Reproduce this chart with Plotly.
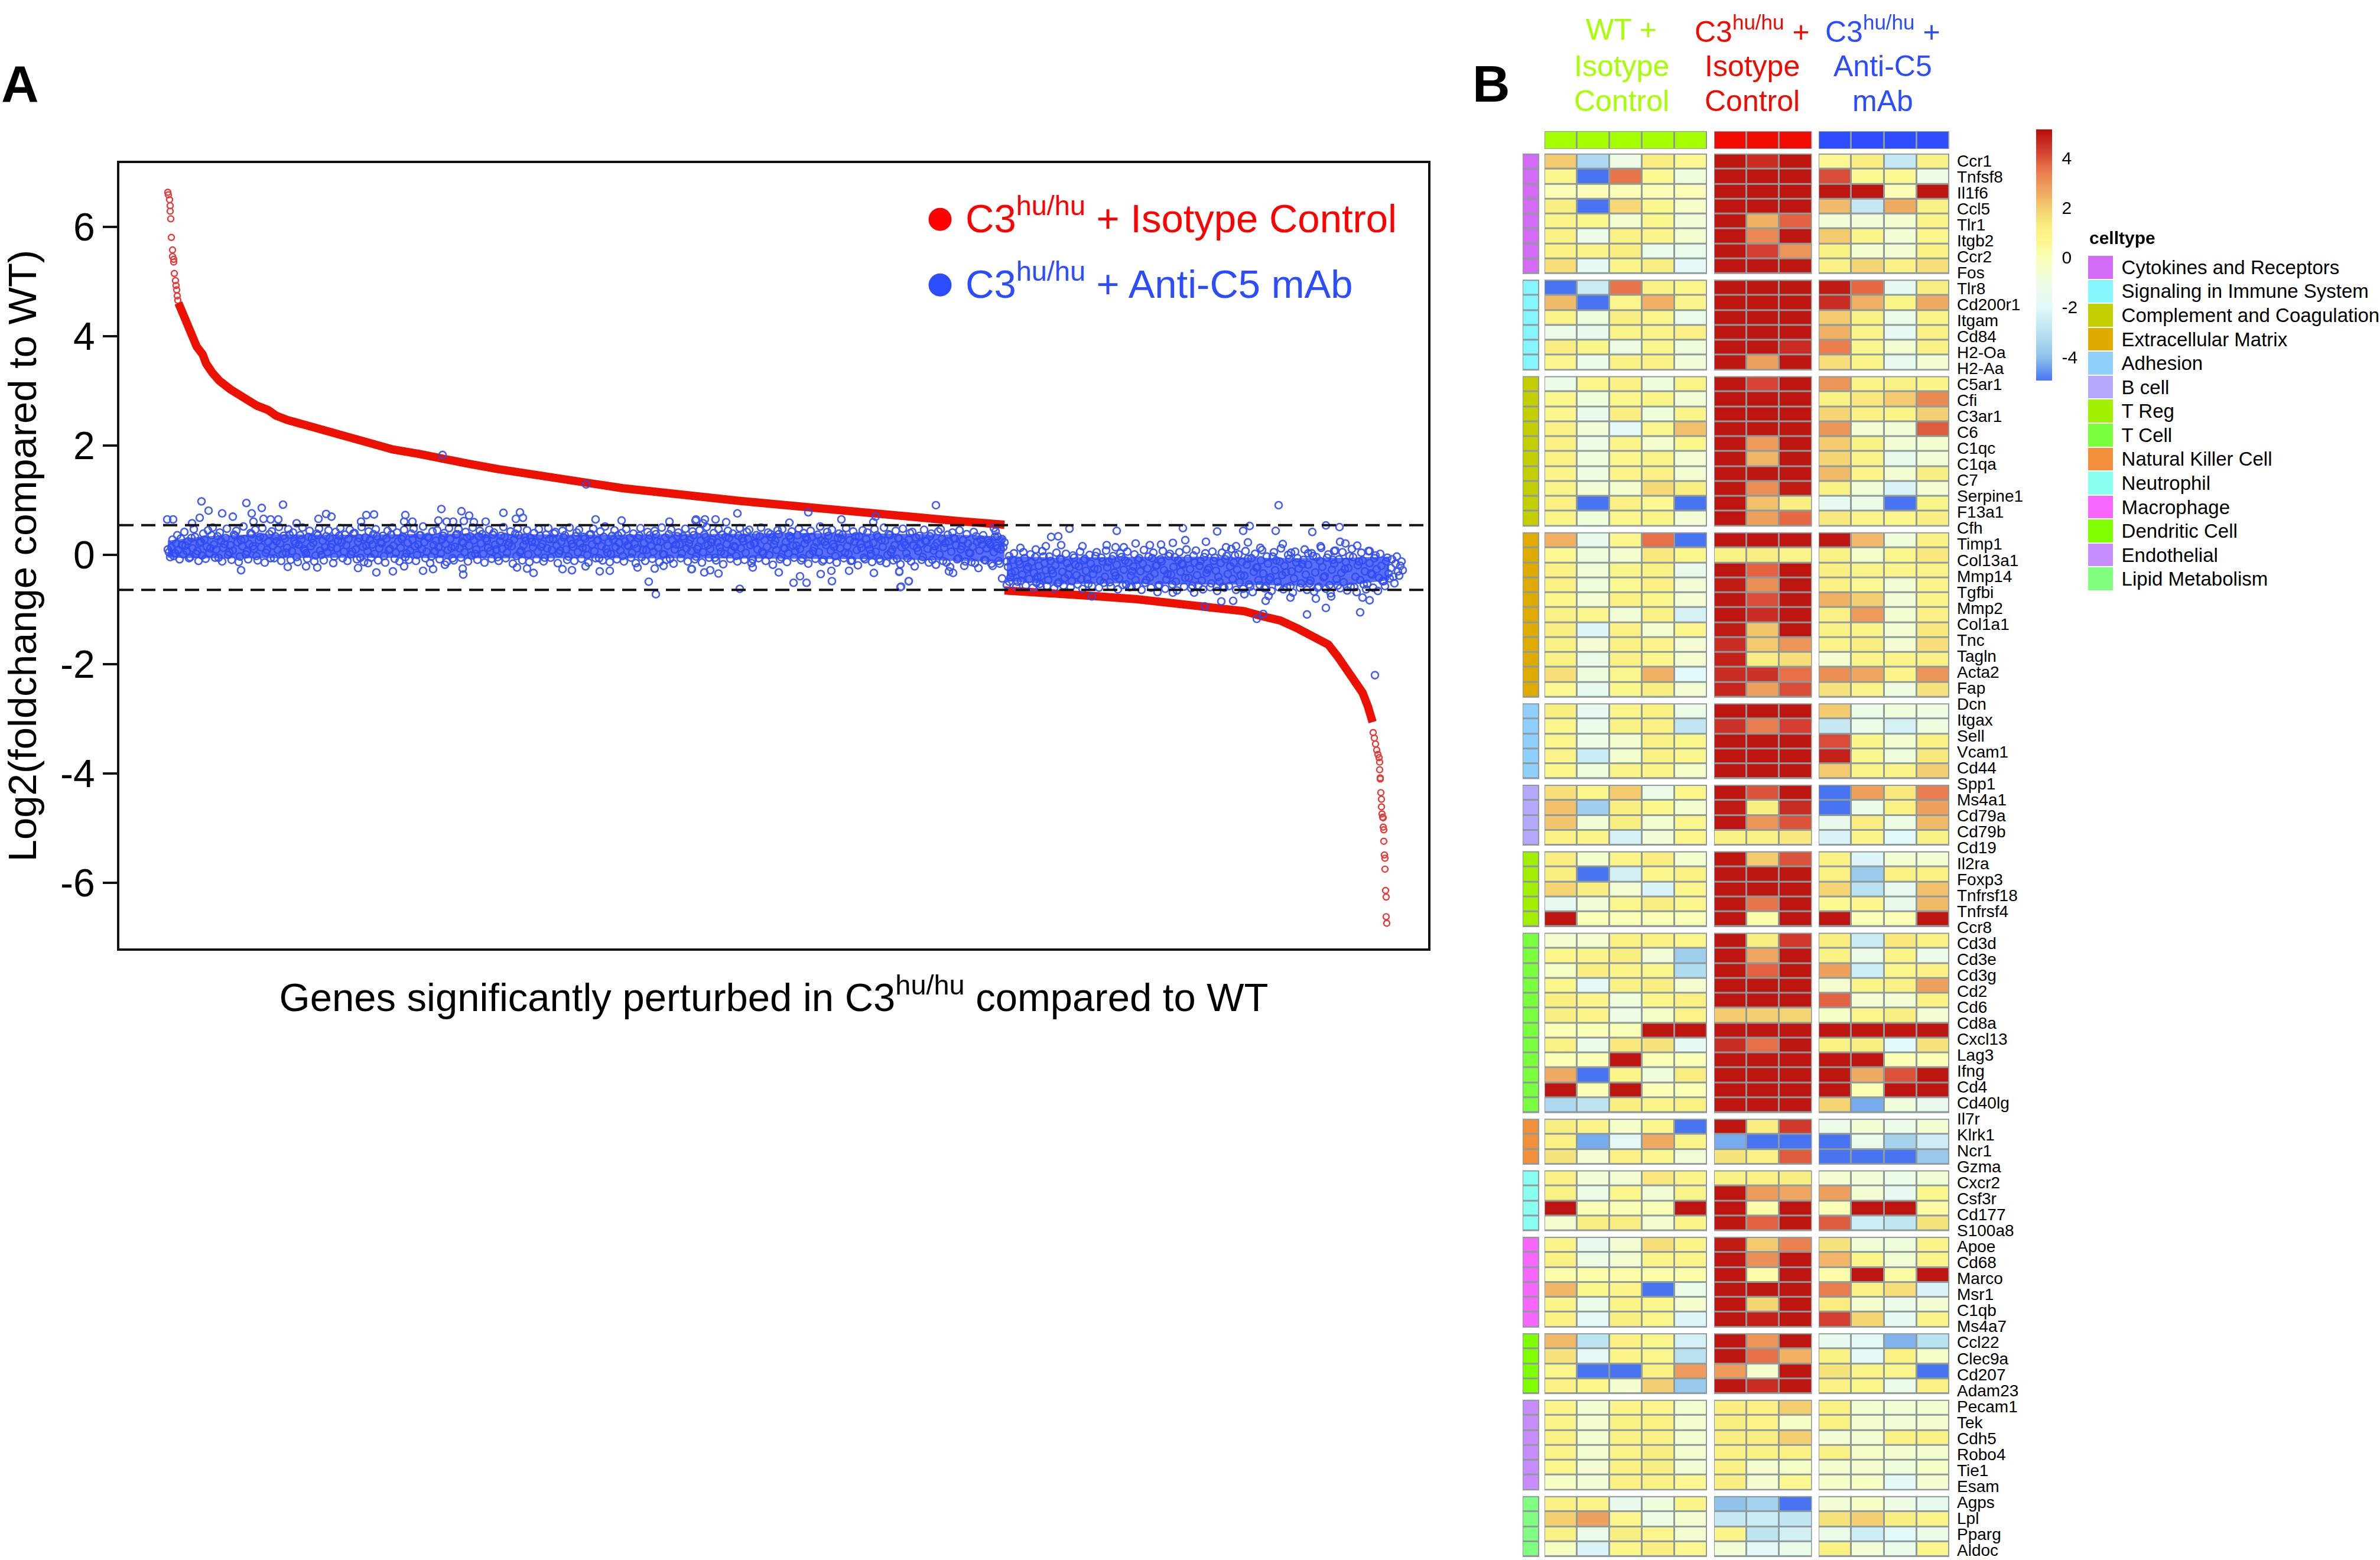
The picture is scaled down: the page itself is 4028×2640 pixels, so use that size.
import plotly.graph_objects as go

W, H = 4028, 2640
FONT = "Liberation Sans"

# ---------- Panel A data (gene rank, log2 fold change) ----------
red_up_tail_x = [0, 1, 3, 4, 4, 5, 6, 8, 8, 10, 10, 11, 13, 14, 15, 16, 17]
red_up_tail_y = [6.635, 6.59, 6.50, 6.39, 6.29, 6.15, 5.81, 5.58, 5.46, 5.41, 5.36, 5.15, 5.02, 4.93, 4.85, 4.74, 4.66]
red_up_x = [18, 24, 30, 40, 49, 59, 65, 75, 87, 106, 119, 135, 151, 170, 183, 202, 221, 253, 291, 317, 349, 381, 425, 464, 508,
            559, 610, 661, 712, 770, 821, 866, 966, 1066, 1166, 1266, 1337, 1416]
red_up_y = [4.61, 4.47, 4.27, 4.03, 3.81, 3.67, 3.50, 3.34, 3.19, 3.03, 2.94, 2.80, 2.73, 2.65, 2.55, 2.47, 2.41, 2.31, 2.20, 2.12,
            2.01, 1.93, 1.85, 1.75, 1.67, 1.57, 1.48, 1.38, 1.29, 1.22, 1.16, 1.10, 0.99, 0.89, 0.78, 0.67, 0.62, 0.553]
red_down_x = [1416, 1477, 1564, 1640, 1755, 1822, 1852, 1883, 1913, 1931, 1949, 1964, 1980, 2004, 2022, 2031, 2039]
red_down_y = [-0.65, -0.68, -0.75, -0.81, -0.94, -1.03, -1.12, -1.20, -1.35, -1.45, -1.55, -1.64, -1.86, -2.22, -2.52, -2.77, -3.06]
red_down_tail_x = [2040, 2042, 2044, 2046, 2048, 2050, 2051, 2051, 2052, 2052, 2053, 2054, 2054, 2055, 2056, 2057, 2057,
                   2058, 2058, 2059, 2060, 2060, 2061, 2062, 2062, 2063]
red_down_tail_y = [-3.25, -3.35, -3.46, -3.57, -3.65, -3.71, -3.79, -3.93, -4.08, -4.10, -4.35, -4.47, -4.61, -4.74,
                   -4.80, -4.81, -4.98, -5.03, -5.24, -5.49, -5.55, -5.75, -6.14, -6.26, -6.62, -6.74]

band_left_x = [0, 60, 150, 300, 500, 700, 900, 1050, 1216, 1340, 1416]
band_left_top = [0.26, 0.34, 0.38, 0.37, 0.39, 0.37, 0.38, 0.40, 0.39, 0.37, 0.34]
band_left_bot = [-0.05, -0.06, -0.06, -0.05, -0.06, -0.06, -0.06, -0.07, -0.08, -0.11, -0.13]
band_right_x = [1420, 1500, 1600, 1700, 1800, 1900, 2000, 2067]
band_right_top = [-0.02, -0.05, -0.04, -0.03, -0.04, -0.06, -0.05, -0.03]
band_right_bot = [-0.48, -0.54, -0.52, -0.54, -0.54, -0.56, -0.55, -0.46]

# outlying blue points read one by one
blue_out_x = [57, 133, 159, 195, 69, 92, 110, 142, 54, -1, 9, 162, 174, 187, 145, 255, 268, 277, 336, 349, 327, 402, 400,
              414, 463, 458, 497, 510, 472, 483, 501, 568, 596, 589, 601, 724, 768, 849, 893, 538, 218, 41, 518,
              124, 203, 322, 353, 381, 432, 449, 469, 500, 499, 591, 608, 619, 668, 684, 707, 731, 748, 795, 814, 826,
              824, 839, 886, 253, 234, 400, 339, 465, 708,
              964, 1084, 1198, 1194, 1140, 1052, 945, 894, 927, 909, 906, 887, 932, 908, 918, 968, 990, 1034, 1059, 1070,
              1081, 1124, 1105, 1123, 1153, 1195, 1238, 1254, 1241,
              1300, 1880, 1526, 1606, 1718, 1776, 1820, 1831, 1875, 1937, 1960, 1983, 1495, 1507, 1443, 1486, 1512, 1548,
              1469, 1238, 1254, 1240, 1412, 1424, 1322, 1329, 1477, 1564, 1755, 1783, 1803, 1858, 1843, 1854, 1928, 1960,
              2018, 2043, 2034, 1900, 1943, 1969, 2022, 1863, 1822, 1737, 1701, 1675, 1631, 1984, 1993, 1951, 2013, 1887,
              1828, 1757, 1722, 1701, 1681, 1662, 1638, 1618, 1604, 1589, 1974, 2034, 1901, 1930, 1849, 1808, 1791,
              1398, 1401, 1404]
blue_out_y = [0.98, 0.95, 0.86, 0.92, 0.81, 0.76, 0.70, 0.76, 0.68, 0.65, 0.65, 0.66, 0.65, 0.65, 0.61, 0.66, 0.75, 0.70,
              0.73, 0.74, 0.61, 0.73, 0.61, 0.61, 0.84, 0.63, 0.80, 0.72, 0.61, 0.61, 0.62, 0.77, 0.78, 0.66, 0.68, 0.65,
              0.63, 0.61, 0.63, 0.61, 0.58, 0.58, 0.60,
              -0.28, -0.22, -0.24, -0.32, -0.30, -0.29, -0.26, -0.18, -0.36, -0.25, -0.23, -0.25, -0.33, -0.26, -0.28,
              -0.21, -0.30, -0.29, -0.23, -0.49, -0.72, -0.25, -0.20, -0.26, -0.23, -0.21, -0.21, -0.15, 1.83, 1.29,
              0.76, 0.78, 0.70, 0.60, 0.65, 0.59, 0.60, 0.65, 0.65, 0.65, 0.58, -0.26, -0.34, -0.32, -0.28, -0.62, -0.23,
              -0.32, -0.51, -0.39, -0.51, -0.48, -0.35, -0.29, -0.29, -0.33, -0.30, -0.48, -0.58,
              0.91, 0.91, 0.48, 0.44, 0.49, 0.43, 0.44, 0.53, 0.44, 0.42, 0.54, 0.51, 0.33, 0.34, 0.13, 0.16, 0.18, 0.16,
              0.10, -0.31, -0.48, -0.59, -0.43, -0.49, -0.30, -0.33, -0.59, -0.76, -0.94, -0.85, -0.84, -0.84, -1.17, -1.08,
              -1.09, -0.97, -1.05, -2.20, -0.83, -0.78, -0.80, -0.76, -0.78, -0.75, -0.72, -0.69, -0.69, -0.68, -0.58,
              0.24, 0.21, 0.16, 0.17, 0.20, 0.23, 0.24, 0.27, 0.22, 0.19, 0.18, 0.21, 0.14, 0.14, 0.18, 0.07, 0.07, 0.04,
              0.03, 0.13, 0.16, 0.14, 0.49, 0.43, 0.34]

# fringe of the dense blue cloud, estimated along the gene rank (4 ranks apart)
blue_left_y = [
    0.10, -0.04, 0.28, 0.03, 0.36, -0.08, 0.18, 0.42, 0.07, -0.06, 0.31, 0.47, 0.02, -0.11, 0.24, 0.39, -0.07, 0.45, 0.12, 0.50,
    -0.05, 0.34, 0.41, -0.12, 0.20, 0.48, 0.05, -0.09, 0.37, 0.44, -0.13, 0.27, 0.52, 0.01, -0.08, 0.40, 0.16, 0.46, -0.10, 0.33,
    0.49, -0.14, 0.09, 0.38, 0.43, -0.06, 0.25, 0.51, -0.11, 0.35, 0.04, 0.47, -0.09, 0.41, 0.21, -0.13, 0.36, 0.50, 0.08, -0.07,
    0.44, 0.30, -0.12, 0.39, 0.48, 0.00, -0.10, 0.34, 0.45, 0.14, -0.15, 0.42, 0.26, 0.49, -0.06, 0.37, -0.11, 0.46, 0.06, 0.40,
    -0.08, 0.31, 0.51, -0.13, 0.17, 0.43, -0.05, 0.38, 0.47, -0.10, 0.23, 0.35, -0.14, 0.44, 0.11, 0.50, -0.07, 0.41, -0.12, 0.29,
    0.46, 0.03, -0.09, 0.39, 0.48, -0.11, 0.19, 0.36, 0.52, -0.06, 0.33, -0.15, 0.43, 0.07, 0.45, -0.08, 0.28, 0.40, -0.13, 0.49,
    0.13, -0.10, 0.37, 0.47, -0.05, 0.22, 0.42, -0.12, 0.34, 0.50, 0.02, -0.09, 0.44, 0.38, -0.14, 0.26, 0.46, -0.07, 0.41, 0.10,
    -0.11, 0.35, 0.51, -0.06, 0.18, 0.43, -0.16, 0.39, 0.48, 0.05, -0.10, 0.32, 0.45, -0.13, 0.24, 0.40, -0.08, 0.47, 0.15, -0.12,
    0.37, 0.49, -0.05, 0.29, 0.42, -0.15, 0.08, 0.44, 0.36, -0.09, 0.50, 0.20, -0.11, 0.41, 0.46, -0.07, 0.33, 0.12, -0.14, 0.38,
    0.48, -0.06, 0.27, 0.43, -0.10, 0.52, 0.04, -0.13, 0.35, 0.45, -0.08, 0.22, 0.40, -0.12, 0.47, 0.16, -0.05, 0.39, -0.15, 0.31,
    0.49, 0.09, -0.11, 0.42, 0.36, -0.07, 0.44, 0.25, -0.13, 0.50, 0.01, -0.09, 0.38, 0.46, -0.16, 0.19, 0.41, -0.06, 0.34, 0.48,
    -0.12, 0.28, 0.43, -0.08, 0.11, 0.45, -0.14, 0.37, 0.51, -0.05, 0.23, 0.40, -0.10, 0.47, 0.06, -0.17, 0.33, 0.44, -0.07, 0.39,
    0.14, -0.12, 0.49, 0.30, -0.09, 0.42, 0.46, -0.15, 0.21, 0.36, -0.06, 0.50, 0.03, -0.11, 0.41, 0.38, -0.18, 0.26, 0.45, -0.08,
    0.47, 0.12, -0.13, 0.35, 0.43, -0.05, 0.17, 0.48, -0.10, 0.40, 0.32, -0.16, 0.44, 0.07, -0.07, 0.37, 0.52, -0.12, 0.24, 0.42,
    -0.09, 0.46, 0.15, -0.14, 0.39, 0.29, -0.06, 0.49, 0.02, -0.11, 0.43, 0.34, -0.19, 0.20, 0.45, -0.08, 0.41, 0.10, -0.13, 0.47,
    0.36, -0.07, 0.27, 0.50, -0.15, 0.38, 0.05, -0.10, 0.44, 0.31, -0.17, 0.48, 0.18, -0.06, 0.40, 0.42, -0.21, 0.13, 0.35, -0.09,
    0.46, 0.25, -0.14, 0.39, 0.08, -0.18, 0.43, 0.47, -0.11, 0.22, 0.37, -0.22, 0.41, 0.30, -0.08, 0.45, 0.16, -0.20, 0.38, 0.04,
    -0.13, 0.42, 0.34, -0.24, 0.28, 0.36, -0.10, 0.26, 0.19, -0.20, 0.33, 0.12, -0.16, 0.29, 0.23, -0.12]
blue_right_y = [
    -0.55, -0.02, -0.33, 0.03, -0.58, -0.12, -0.47, 0.05, -0.56, -0.22, 0.01, -0.60, -0.04, -0.40, -0.53, 0.07, -0.15, -0.57, -0.03, -0.28,
    -0.61, 0.04, -0.50, -0.09, -0.56, 0.02, -0.36, -0.59, -0.01, -0.18, -0.54, 0.06, -0.62, -0.07, -0.44, 0.00, -0.57, -0.25, 0.05, -0.60,
    -0.05, -0.51, 0.08, -0.13, -0.58, -0.02, -0.38, -0.63, 0.03, -0.55, -0.10, 0.06, -0.59, -0.30, 0.01, -0.56, -0.06, -0.64, 0.09, -0.46,
    -0.03, -0.60, 0.04, -0.20, -0.57, -0.08, 0.07, -0.62, -0.35, 0.02, -0.54, -0.04, -0.65, 0.05, -0.16, -0.58, 0.10, -0.42, -0.61, -0.01,
    0.08, -0.56, -0.11, -0.63, 0.03, -0.27, -0.59, 0.06, -0.05, -0.66, -0.49, 0.04, -0.60, -0.02, -0.57, 0.11, -0.14, -0.64, 0.01, -0.37,
    -0.62, 0.07, -0.07, -0.58, -0.68, 0.02, -0.23, -0.55, 0.09, -0.61, -0.03, -0.45, -0.66, 0.05, -0.10, -0.59, 0.12, -0.63, -0.32, 0.00,
    -0.57, -0.69, 0.06, -0.06, -0.60, -0.17, 0.10, -0.64, -0.52, 0.03, -0.67, -0.04, -0.58, 0.13, -0.41, -0.62, 0.01, -0.70, -0.09, 0.08,
    -0.56, -0.61, 0.05, -0.26, -0.65, -0.02, 0.11, -0.59, -0.68, -0.12, 0.04, -0.54, -0.63, 0.07, -0.34, -0.60, -0.01, -0.66, 0.02, -0.48,
    -0.57, -0.05, -0.43, -0.08, -0.52, -0.03, -0.38, -0.12]
blue_right_start = 1420

# middle of the dense blue cloud, estimated (4 ranks apart, offset by half a step)
blue_mid_left_y = [
    0.05, 0.14, -0.02, 0.21, 0.09, 0.30, 0.01, 0.17, 0.25, -0.04, 0.12, 0.33, 0.07, 0.22, -0.01, 0.28, 0.15, 0.03, 0.36, 0.19,
    0.10, -0.05, 0.26, 0.13, 0.31, 0.00, 0.18, 0.08, 0.35, 0.23, -0.03, 0.16, 0.29, 0.06, 0.20, 0.38, 0.11, -0.02, 0.27, 0.14,
    0.32, 0.04, 0.24, -0.06, 0.17, 0.34, 0.09, 0.21, 0.02, 0.30, 0.13, 0.37, 0.07, 0.25, -0.04, 0.19, 0.28, 0.11, 0.03, 0.33,
    0.16, 0.22, -0.01, 0.36, 0.08, 0.26, 0.14, 0.05, 0.31, 0.20, -0.03, 0.12, 0.35, 0.23, 0.06, 0.18, 0.29, 0.01, 0.39, 0.10,
    0.24, -0.05, 0.15, 0.32, 0.07, 0.27, 0.19, 0.02, 0.34, 0.12, 0.21, -0.02, 0.30, 0.09, 0.37, 0.17, 0.04, 0.25, 0.13, 0.33,
    -0.04, 0.22, 0.08, 0.28, 0.16, 0.00, 0.36, 0.11, 0.23, 0.06, 0.31, -0.03, 0.18, 0.26, 0.14, 0.03, 0.35, 0.20, 0.09, 0.29,
    -0.06, 0.15, 0.38, 0.12, 0.24, 0.05, 0.32, 0.17, -0.01, 0.27, 0.10, 0.34, 0.21, 0.02, 0.30, 0.13, 0.07, 0.37, 0.19, -0.04,
    0.25, 0.11, 0.33, 0.04, 0.22, 0.16, 0.28, -0.02, 0.36, 0.08, 0.18, 0.26, 0.01, 0.31, 0.14, 0.23, 0.06, 0.35, 0.20, -0.05,
    0.12, 0.29, 0.09, 0.39, 0.17, 0.03, 0.24, 0.32, 0.10, -0.03, 0.27, 0.15, 0.34, 0.05, 0.21, 0.13, 0.30, 0.00, 0.37, 0.19,
    0.07, 0.26, -0.06, 0.16, 0.33, 0.11, 0.23, 0.02, 0.28, 0.14, 0.36, 0.08, -0.02, 0.25, 0.18, 0.31, 0.04, 0.20, 0.12, 0.35,
    -0.04, 0.22, 0.09, 0.29, 0.16, 0.06, 0.38, 0.13, 0.24, 0.01, 0.32, 0.17, -0.07, 0.27, 0.10, 0.34, 0.19, 0.03, 0.30, 0.12,
    0.21, 0.07, 0.36, -0.03, 0.15, 0.26, 0.05, 0.33, 0.18, 0.11, 0.28, -0.05, 0.23, 0.14, 0.37, 0.02, 0.20, 0.31, 0.08, 0.16,
    -0.02, 0.35, 0.12, 0.25, 0.04, 0.29, 0.18, -0.08, 0.22, 0.10, 0.34, 0.06, 0.27, 0.15, 0.00, 0.32, 0.19, 0.09, 0.38, -0.04,
    0.13, 0.24, 0.03, 0.30, 0.17, 0.07, 0.36, 0.11, -0.06, 0.21, 0.28, 0.01, 0.33, 0.14, 0.23, 0.05, 0.26, -0.09, 0.18, 0.35,
    0.08, 0.20, -0.02, 0.31, 0.12, 0.37, 0.04, 0.16, 0.27, -0.10, 0.24, 0.09, 0.34, 0.13, -0.05, 0.29, 0.19, 0.02, 0.22, 0.06,
    0.33, -0.11, 0.15, 0.26, 0.00, 0.36, 0.10, 0.18, -0.07, 0.30, 0.14, 0.23, 0.03, 0.28, -0.12, 0.17, 0.32, 0.07, 0.20, -0.04,
    0.26, 0.11, 0.34, -0.09, 0.16, 0.22, 0.01, 0.29, 0.13, -0.14, 0.25, 0.06, 0.31, 0.18, -0.06, 0.10, 0.27, -0.12, 0.21, 0.03,
    0.15, -0.15, 0.24, 0.08, 0.19, -0.09, 0.12, 0.22, -0.16, 0.05, 0.17, -0.11, 0.10, 0.14]
blue_mid_right_y = [
    -0.22, -0.41, -0.09, -0.30, -0.49, -0.17, -0.36, -0.06, -0.26, -0.44, -0.13, -0.33, -0.51, -0.20, -0.39, -0.03, -0.28, -0.46, -0.11, -0.34,
    -0.19, -0.52, -0.07, -0.31, -0.42, -0.15, -0.24, -0.48, -0.05, -0.37, -0.21, -0.44, -0.10, -0.29, -0.53, -0.16, -0.35, -0.02, -0.26, -0.47,
    -0.12, -0.40, -0.23, -0.50, -0.08, -0.32, -0.18, -0.43, -0.04, -0.27, -0.54, -0.14, -0.38, -0.21, -0.46, -0.09, -0.30, -0.16, -0.51, -0.25,
    -0.41, -0.06, -0.34, -0.19, -0.55, -0.12, -0.28, -0.45, -0.02, -0.36, -0.22, -0.49, -0.10, -0.31, -0.17, -0.42, -0.07, -0.26, -0.56, -0.14,
    -0.37, -0.20, -0.47, -0.04, -0.33, -0.24, -0.52, -0.11, -0.29, -0.40, -0.15, -0.58, -0.08, -0.35, -0.21, -0.44, -0.01, -0.27, -0.50, -0.13,
    -0.38, -0.18, -0.54, -0.06, -0.31, -0.23, -0.46, -0.10, -0.34, -0.57, -0.16, -0.41, -0.03, -0.28, -0.49, -0.12, -0.37, -0.20, -0.59, -0.07,
    -0.30, -0.43, -0.14, -0.25, -0.52, -0.09, -0.36, -0.18, -0.47, -0.02, -0.32, -0.60, -0.11, -0.22, -0.39, -0.05, -0.55, -0.27, -0.16, -0.44,
    -0.08, -0.33, -0.50, -0.13, -0.24, -0.58, -0.04, -0.40, -0.19, -0.46, -0.10, -0.30, -0.53, -0.15, -0.36, -0.06, -0.26, -0.42, -0.20, -0.48,
    -0.12, -0.34, -0.24, -0.40, -0.16, -0.30, -0.20, -0.28]

dashed_levels = [0.545, -0.64]
y_ticks = [6, 4, 2, 0, -2, -4, -6]

# ---------- Panel B data ----------
group_names = ["Cytokines and Receptors", "Signaling in Immune System", "Complement and Coagulation", "Extracellular Matrix",
               "Adhesion", "B cell", "T Reg", "T Cell", "Natural Killer Cell", "Neutrophil", "Macrophage", "Dendritic Cell",
               "Endothelial", "Lipid Metabolism"]
group_colors = ["#d36bf7", "#85f6ff", "#c4cf00", "#dfab00", "#8fd0ff", "#b4a8ff", "#a0f000", "#7aff3e", "#f28f3a", "#88fff0",
                "#f766ff", "#80ff00", "#c78dff", "#80ff80"]
group_sizes = [8, 6, 10, 11, 5, 4, 5, 12, 3, 4, 6, 4, 6, 4]
genes = ["Ccr1", "Tnfsf8", "Il1f6", "Ccl5", "Tlr1", "Itgb2", "Ccr2", "Fos", "Tlr8", "Cd200r1", "Itgam", "Cd84", "H2-Oa", "H2-Aa",
         "C5ar1", "Cfi", "C3ar1", "C6", "C1qc", "C1qa", "C7", "Serpine1", "F13a1", "Cfh", "Timp1", "Col13a1", "Mmp14", "Tgfbi",
         "Mmp2", "Col1a1", "Tnc", "Tagln", "Acta2", "Fap", "Dcn", "Itgax", "Sell", "Vcam1", "Cd44", "Spp1", "Ms4a1", "Cd79a",
         "Cd79b", "Cd19", "Il2ra", "Foxp3", "Tnfrsf18", "Tnfrsf4", "Ccr8", "Cd3d", "Cd3e", "Cd3g", "Cd2", "Cd6", "Cd8a", "Cxcl13",
         "Lag3", "Ifng", "Cd4", "Cd40lg", "Il7r", "Klrk1", "Ncr1", "Gzma", "Cxcr2", "Csf3r", "Cd177", "S100a8", "Apoe", "Cd68",
         "Marco", "Msr1", "C1qb", "Ms4a7", "Ccl22", "Clec9a", "Cd207", "Adam23", "Pecam1", "Tek", "Cdh5", "Robo4", "Tie1", "Esam",
         "Agps", "Lpl", "Pparg", "Aldoc"]

wt_vals = [
    [2.0, -3.3, -1.0, 1.2, 0.6], [0.7, -5, 3.5, 0.6, -0.8], [0, 0, 0, 0, 0], [1.2, -5, 1.7, 0.7, -0.4], [0.8, 0.7, -0.5, 0.7, -0.7],
    [1, -1.3, 1, 0.8, -0.5], [1.1, 0.8, 1.3, -1.3, -1.3], [1.6, -1.7, 0.8, 1.2, -1.9],
    [-5, -2.6, 3.5, 1, 0.7], [2.3, -5, 0.7, 2.5, 0.8], [0.8, -0.8, 1.2, 0.7, -1.3], [-1.1, -1.4, 0.9, 0.8, 1.1], [1.3, 0.8, -1, 0.7, -0.8],
    [0.7, -1.1, 1, 1, -0.7],
    [-1.1, 0.7, 1.1, -0.8, 0.9], [0.7, -0.8, 0.7, 0.8, -0.7], [0.7, -1.4, 1.2, -0.8, 0.8], [1, -0.7, -1.8, 0.7, 2.2], [1.1, -1, 0.9, -0.5, 0.7],
    [1.1, -0.8, 0.7, 0.9, -0.6], [0.8, -0.9, 0.8, 1.1, -0.6], [0.8, -0.7, -0.5, 1.7, 1.2], [1.1, -5, 1.1, 0.6, -5], [0.8, -0.8, 0.7, 0.9, -0.6],
    [2.5, -1.4, 0.7, 3.6, -5], [0.6, -0.8, -0.5, 1.4, 0.7], [1.1, -0.7, 0.8, 1, -1.4], [1, -0.8, 0.6, 1.1, -0.7], [0.7, -0.6, 1.1, 0.7, -0.6],
    [1, 0.7, -0.7, 1, -2.3], [1.3, -2.1, 1.1, -0.5, 0.7], [1, -0.6, 1, 0.8, -0.6], [1, -1.2, 1, 0.7, -0.5], [1.6, -0.8, 0.7, 2.5, -2],
    [0.6, -1.5, 0.7, 1.2, -0.6],
    [1.2, -1.5, 0.7, 1, -1.2], [0.7, -1.3, 1, 1.1, -2.8], [0.7, -1, -0.5, 1, 0.7], [0.9, -2.6, -0.5, 1.1, 0.7], [0.7, -0.8, 0.8, 0.8, -0.4],
    [1.6, 0.7, 2, -1.2, 0.7], [2.2, -3.6, 1.2, 0.7, -0.5], [2.1, -0.7, 1.2, -0.6, 0.7], [1.1, 0.8, -2.3, -0.7, 0.7],
    [1.2, -0.5, 0.8, 1.2, -0.5], [1.2, -5, -2.4, 0.7, 1.1], [1.8, 1.2, -0.6, -2.2, 0.7], [-1.5, -0.7, 0.7, 1.3, 0.7], [5, 0, 0, 0, 0],
    [-0.5, -0.5, 1.1, 1.1, 0.7], [0.7, 0.8, 1.2, -0.7, -3.6], [-0.3, 1.2, 0.8, 0.7, -3.2], [0.7, -1.8, 1, 1.2, -0.5], [1.2, 0.8, -0.8, 0.7, 1.1],
    [1.2, 0.8, -1, -0.4, 0.9], [0, 0, 0, 5, 5], [1, -1.2, 1.4, 1.5, -1.6], [0, 0, 5, 0, 0], [2.6, -5, 0.8, -0.8, 1.3], [5, 0, 5, 0, 0],
    [-3.3, -2.9, 1.2, 0.8, 1],
    [1.2, 0.8, -0.4, 0.7, -5], [1.1, -4.3, -1.9, 2.6, 0.8], [1.5, -0.6, 1.1, 0.7, -0.7],
    [1.1, -0.7, -0.6, 1.4, 0.8], [1, -1.2, 0.7, -0.7, 0.9], [5, 0, 0, 0, 5], [-0.5, 1.2, 1.3, -0.5, 0.8],
    [0.8, -1.5, -0.6, 1.6, 0.8], [1.1, -1, -0.6, 0.8, 0.8], [0.2, 0.2, 0.2, 0.2, 0.2], [2.4, 0.7, 0.8, -5, -1.3], [0.8, -1.2, 0.9, 0.7, -0.5],
    [1.1, -1.8, 1.2, 0.7, -2.1],
    [2.3, -2.9, 1.1, 0.7, -2.3], [1.5, -1.9, 0.8, 0.7, -3], [0.7, -5, -5, 1, 2.9], [1.1, 0.7, -0.5, 1.9, -3.8],
    [0.8, -0.6, 0.8, 0.7, -0.5], [0.8, -0.5, 1, 1.1, -0.5], [1, -0.5, 1, 1.1, -0.5], [0.9, -0.5, 0.9, 1.2, -0.5], [0.7, -0.6, 1, 1.2, -0.7],
    [-0.3, -0.7, 1.1, 1, 0.6],
    [1.1, 0.9, -1.4, -0.8, 0.8], [1.9, 2.8, 0.7, -1, -0.6], [1, -1.3, 1.2, 0.7, -0.5], [-0.3, -2.2, 0.7, 1.2, 0.6]]
c3_vals = [
    [5, 4.6, 5], [5, 5, 5], [5, 5, 5], [5, 5, 5], [5, 2.5, 3.8], [5, 3.2, 5], [5, 4.3, 3], [5, 5, 5],
    [5, 5, 5], [5, 5, 5], [5, 5, 5], [5, 5, 5], [5, 5, 4.6], [5, 2.8, 5],
    [5, 4.2, 5], [5, 5, 5], [5, 5, 5], [5, 5, 5], [5, 2.9, 5], [5, 2.4, 5], [5, 5, 5], [5, 3.1, 4.9], [5, 2.2, 1.2], [5, 2.8, 3.7],
    [5, 5, 5], [1, 1.3, 0.8], [5, 3.8, 5], [4.9, 3.1, 5], [5, 4.1, 5], [5, 4.6, 5], [4.9, 2.1, 5], [4.6, 2, 3], [4.8, 1.2, 1.6], [4.6, 4.5, 3.6], [4.7, 2.8, 4.1],
    [5, 5, 5], [4.5, 3.4, 4.3], [5, 5, 5], [5, 5, 5], [5, 5, 5],
    [5, 4, 5], [4.9, 1.2, 4.6], [5, 3, 4], [1, 1, 1.4],
    [5, 2, 4], [5, 5, 5], [5, 5, 5], [5, 3.5, 5], [5, 0.2, 5],
    [5, 1.2, 4.4], [5, 2.7, 5], [5, 3.8, 5], [5, 5, 5], [5, 5, 5], [2, 1.9, 1.8], [5, 5, 5], [4.6, 3.6, 5], [5, 5, 5], [5, 5, 5], [5, 5, 5], [5, 5, 5],
    [5, 1.3, 4.4], [-4.3, -5, -5], [1.5, 1.1, 3.9],
    [1, 1.1, 1.2], [5, 2.9, 2.7], [5, 0.2, 5], [5, 3.8, 5],
    [4.9, 2, 3.3], [5, 3.1, 5], [5, 0.2, 5], [5, 5, 5], [5, 1.8, 5], [5, 4.8, 5],
    [5, 3, 5], [5, 3.6, 2.5], [2.9, -0.5, 5], [5, 4.6, 5],
    [1.2, 1.1, 1.9], [1.2, 0.8, -0.3], [1.2, 1.2, 1.9], [1.1, 1, 1.1], [1, -0.5, -0.4], [1.2, -0.5, 0.6],
    [-4, -3.5, -5], [-2.7, -2.6, -2.8], [0.8, -2.9, -2.4], [-0.7, -1.9, -1.3]]
anti_vals = [
    [0.6, 1.2, -2.7, 1], [4.1, 0.6, 0.6, -1], [5, 5, 0, 5], [2.3, -2.7, 2.6, 1.1], [-0.7, -0.7, -0.5, 0.8], [2, 0.8, -0.7, 0.7],
    [1, -0.5, -0.6, 1.1], [1.1, 1.8, 1.1, 1.6],
    [4.9, 3.7, -1.6, 1.3], [4.6, 2.5, 0.8, 2.6], [2, 1, -1.2, 0.8], [2.5, 0.8, -1.6, 1], [3.4, 0.7, -0.6, 1], [1.6, 0.8, -1.5, -0.6],
    [3, 0.9, 1, 0.8], [1, 1.4, 2, 3.2], [1.8, 1, 0.9, 1.9], [3, -0.6, -0.7, 3.9], [2, 1, -0.7, -0.5], [1.8, 0.9, -1.4, -0.7],
    [2.3, 0.8, -0.6, 1.2], [1, -0.7, -2.2, -0.6], [-1.5, -1.2, -5, 0.8], [1.4, 0.8, 0.7, 1.2],
    [5, 2.3, -0.8, 1.1], [1, -0.4, 0.7, 1.4], [1.2, 0.9, 0.8, 0.9], [1, 0.6, -0.6, 0.8], [2.5, 1.9, -0.7, 0.8], [1, 2.9, -0.6, 1.1],
    [1, 0.9, -0.6, 1.4], [0.9, 1.2, -0.6, 1.6], [-0.5, 0.8, 0.8, 1], [3.1, 2.7, 0.8, 3], [1.5, 0.8, -0.9, 1.5],
    [2, -1.2, -0.8, -0.9], [-2.7, -1.1, -2.3, -0.9], [4.1, 0.8, -0.5, 1.1], [4.8, 0.7, -0.8, 1.4], [2, 0.8, 0.8, 1.9],
    [-5, 2.8, 1.4, 3.4], [-5, -1.2, 1.1, 2.8], [-1.4, 1.3, -1, 2.3], [-2.2, 0.8, -2, 1],
    [1, -2.1, -0.6, -0.6], [1, -3.7, 1.1, 1.1], [1.8, -3, -1.5, 2.2], [0.6, 0.7, -1.4, 2.3], [5, 0, 0, 5],
    [1.3, -2.6, 1.4, 1], [1, -1.1, 0.9, -1.2], [2.8, -2.5, 0.7, 1.1], [-0.5, 0.9, 1, 2.8], [3.8, -0.6, -0.6, 1], [-0.4, 0.7, 1.2, -0.6],
    [5, 5, 5, 5], [1, 1.2, -2, 1.5], [5, 5, 0, 0], [5, 2.6, 4, 5], [5, 0, 5, 5], [1.8, -4.3, -0.8, -1.4],
    [-1.2, -0.6, -1.1, -0.6], [-5, -1.3, -3.5, -2.5], [-5, -5, -5, -3.8],
    [-0.6, -0.7, -1.1, -0.7], [2.8, -0.6, -1.5, 0.7], [0, 5, 5, 0.3], [3.9, -2.5, -2.8, 1.5],
    [1.5, -0.7, -0.8, 0.9], [2.4, 0.8, -0.7, 0.8], [0.2, 5, 0.3, 5], [3.4, 1, 1.6, -2.2], [1.3, -0.5, -1.2, -0.6], [4.3, 1.8, -1.6, 0.9],
    [-1.5, -1.8, -4.2, -3], [1, -1.8, 1, -0.4], [1.5, 0.9, 0.7, -5], [1.1, 0.7, -1.3, 1.1],
    [1, -0.5, -0.7, -0.5], [1, -0.5, -0.7, -0.5], [-0.7, -0.6, 1, 1], [1, -0.4, -0.5, -0.5], [-0.5, -0.5, -0.8, -0.4], [-0.4, -0.3, -1.8, -0.5],
    [-0.7, -0.3, -1, -1.5], [1.5, 1.9, 1.2, 0.9], [-1.2, -2.5, -2, -1.2], [1, -0.7, -1.2, 0.7]]

panel_titles = [["WT +", "Isotype", "Control"],
                ["C3<sup>hu/hu</sup> +", "Isotype", "Control"],
                ["C3<sup>hu/hu</sup> +", "Anti-C5", "mAb"]]
panel_colors = ["#a6ff00", "#f00b00", "#2c4cff"]
colorbar_ticks = [-4, -2, 0, 2, 4]

RING = "#2f4bf2"
BAND = "#eb1000"
GRID = "#8f9b9b"
INK = "#000000"


def fx(x):
    return x / W


def fy(y):
    return 1 - y / H


fig = go.Figure()
annotations = []
shapes = []

# ---------- Panel A ----------
fig.add_trace(go.Scatter(x=red_up_x, y=red_up_y, mode="lines", line=dict(color=BAND, width=14), hoverinfo="skip"))
fig.add_trace(go.Scatter(x=red_down_x, y=red_down_y, mode="lines", line=dict(color=BAND, width=14), hoverinfo="skip"))
for xs, ys in ((red_up_tail_x, red_up_tail_y), (red_down_tail_x, red_down_tail_y)):
    fig.add_trace(go.Scatter(x=xs, y=ys, mode="markers", opacity=0.85,
                             marker=dict(symbol="circle-open", size=10, color="#e01818", line=dict(width=2.4))))
for bx, top, bot in ((band_left_x, band_left_top, band_left_bot), (band_right_x, band_right_top, band_right_bot)):
    fig.add_trace(go.Scatter(x=bx, y=top, mode="lines", line=dict(width=0, color=RING), hoverinfo="skip"))
    fig.add_trace(go.Scatter(x=bx, y=bot, mode="lines", line=dict(width=0, color=RING), fill="tonexty",
                             fillcolor="rgba(72,94,245,0.9)", hoverinfo="skip"))
blue_left_x = [i * 4 for i in range(len(blue_left_y))]
blue_right_x = [blue_right_start + i * 4 for i in range(len(blue_right_y))]
blue_mid_left_x = [2 + i * 4 for i in range(len(blue_mid_left_y))]
blue_mid_right_x = [blue_right_start + 2 + i * 4 for i in range(len(blue_mid_right_y))]
for xs, ys in ((blue_mid_left_x, blue_mid_left_y), (blue_mid_right_x, blue_mid_right_y),
               (blue_left_x, blue_left_y), (blue_right_x, blue_right_y), (blue_out_x, blue_out_y)):
    fig.add_trace(go.Scatter(x=xs, y=ys, mode="markers", opacity=0.9,
                             marker=dict(symbol="circle-open", size=12, color=RING, line=dict(width=2.6))))
for lvl in dashed_levels:
    fig.add_trace(go.Scatter(x=[-82, 2133], y=[lvl, lvl], mode="lines",
                             line=dict(color="#111111", width=4, dash="24px,13px"), hoverinfo="skip"))
# legend of panel A
for yval, col, label in ((6.14, "#ff0000", "C3<sup>hu/hu</sup> + Isotype Control"), (4.94, "#2c4cff", "C3<sup>hu/hu</sup> + Anti-C5 mAb")):
    fig.add_trace(go.Scatter(x=[1307], y=[yval], mode="markers", marker=dict(size=39, color=col), hoverinfo="skip"))
    fig.add_trace(go.Scatter(x=[1350], y=[yval - 0.05], mode="text", text=[label], textposition="middle right",
                             textfont=dict(family=FONT, size=67, color=col), hoverinfo="skip"))

frame = dict(showline=True, mirror=True, linecolor="#111111", linewidth=4, showgrid=False, zeroline=False)

# ---------- Panel B ----------
h_row, gap = 25.27, 0.455
centre0 = 260.7 + h_row / 2
y_top = -centre0 / h_row
y_bot = (H - centre0) / h_row
scale = [[0.0, "#4874f2"], [0.0943, "#8fc3ec"], [0.1935, "#b9e2f0"], [0.2928, "#e2f8f9"], [0.392, "#eefce4"], [0.4913, "#fbffb4"],
         [0.5608, "#fbf68a"], [0.6203, "#f9ec80"], [0.6898, "#f3c96e"], [0.789, "#ec9458"], [0.8486, "#e86f47"],
         [0.9181, "#d23c30"], [1.0, "#b80c08"]]
panels = [("x3", 2614, 2889, wt_vals), ("x4", 2901, 3066.5, c3_vals), ("x5", 3078, 3299, anti_vals)]

r = 0
for g, size in enumerate(group_sizes):
    off = r + g * gap
    c = group_colors[g]
    fig.add_trace(go.Heatmap(z=[[g]] * size, x=[0], y0=off, dy=1, xaxis="x2", yaxis="y2", xgap=3, ygap=3,
                             colorscale=[[0, c], [1, c]], showscale=False, hoverinfo="skip"))
    shapes.append(dict(type="rect", layer="below", xref="x2", yref="y2", x0=-0.5, x1=0.5, y0=off - 0.5, y1=off + size - 0.5,
                       fillcolor=GRID, line=dict(color=GRID, width=2)))
    for ax, _, _, vals in panels:
        rows = vals[r:r + size]
        n = len(rows[0])
        fig.add_trace(go.Heatmap(z=rows, x=list(range(n)), y0=off, dy=1, xaxis=ax, yaxis="y2", xgap=3, ygap=3,
                                 coloraxis="coloraxis", hoverinfo="skip"))
        shapes.append(dict(type="rect", layer="below", xref=ax, yref="y2", x0=-0.5, x1=n - 0.5, y0=off - 0.5, y1=off + size - 0.5,
                           fillcolor=GRID, line=dict(color=GRID, width=2)))
    r += size

bar_y = (237 - centre0) / h_row
for (ax, _, _, vals), col in zip(panels, panel_colors):
    n = len(vals[0])
    fig.add_trace(go.Heatmap(z=[[1] * n], x=list(range(n)), y0=bar_y, dy=1.1, xaxis=ax, yaxis="y2", xgap=3,
                             colorscale=[[0, col], [1, col]], showscale=False, hoverinfo="skip"))
    shapes.append(dict(type="rect", layer="below", xref=ax, yref="y2", x0=-0.5, x1=n - 0.5, y0=bar_y - 0.55, y1=bar_y + 0.55,
                       fillcolor=GRID, line=dict(color=GRID, width=2)))

# gene labels, evenly spaced
fig.add_trace(go.Scatter(x=[0] * len(genes), y=list(range(len(genes))), mode="text", text=genes, textposition="middle right",
                         textfont=dict(family=FONT, size=28, color=INK), xaxis="x6", yaxis="y3", hoverinfo="skip"))

# cell type legend
n_g = len(group_names)
legend_scale = []
for i, c in enumerate(group_colors):
    legend_scale += [[i / n_g, c], [(i + 1) / n_g, c]]
fig.add_trace(go.Heatmap(z=[[i] for i in range(n_g)], x=[0], y=group_names, xaxis="x7", yaxis="y4", zmin=-0.5, zmax=n_g - 0.5,
                         colorscale=legend_scale, showscale=False, ygap=2, hoverinfo="skip"))

# header texts
for (title, col, cx) in zip(panel_titles, panel_colors, (2744, 2965, 3186)):
    for line, cy in zip(title, (50, 112, 171)):
        annotations.append(dict(text=line, x=fx(cx), y=fy(cy), xref="paper", yref="paper", showarrow=False, xanchor="center",
                                yanchor="middle", font=dict(family=FONT, size=50, color=col)))
for letter, lx in (("A", 0), ("B", 2490)):
    annotations.append(dict(text="<b>%s</b>" % letter, x=fx(lx), y=fy(141), xref="paper", yref="paper", showarrow=False,
                            xanchor="left", yanchor="middle", font=dict(family=FONT, size=88, color=INK)))
annotations.append(dict(text="<b>celltype</b>", x=fx(3534), y=fy(403), xref="paper", yref="paper", showarrow=False,
                        xanchor="left", yanchor="middle", font=dict(family=FONT, size=30, color=INK)))

hidden = dict(visible=False, showgrid=False, zeroline=False)
fig.update_layout(
    width=W, height=H, margin=dict(l=0, r=0, t=0, b=0, autoexpand=False), paper_bgcolor="white", plot_bgcolor="white",
    showlegend=False, annotations=annotations, shapes=shapes, font=dict(family=FONT, color=INK),
    xaxis=dict(domain=[fx(202), fx(2417)], range=[-82, 2133], anchor="y", showticklabels=False, ticks="",
               title=dict(text="Genes significantly perturbed in C3<sup>hu/hu</sup> compared to WT",
                          font=dict(family=FONT, size=67, color=INK), standoff=57), **frame),
    yaxis=dict(domain=[fy(1605), fy(276)], range=[-7.2, 7.17], anchor="x", tickvals=y_ticks, ticktext=[str(t) for t in y_ticks],
               ticks="outside", ticklen=24, tickwidth=4, tickcolor="#111111", tickfont=dict(family=FONT, size=66, color=INK),
               tickangle=0, title=dict(text="Log2(foldchange compared to WT)", font=dict(family=FONT, size=67, color=INK), standoff=30),
               **frame),
    xaxis2=dict(domain=[fx(2577), fx(2605)], range=[-0.5, 0.5], anchor="y2", **hidden),
    xaxis3=dict(domain=[fx(2614), fx(2889)], range=[-0.5, 4.5], anchor="y2", **hidden),
    xaxis4=dict(domain=[fx(2901), fx(3066.5)], range=[-0.5, 2.5], anchor="y2", **hidden),
    xaxis5=dict(domain=[fx(3078), fx(3299)], range=[-0.5, 3.5], anchor="y2", **hidden),
    xaxis6=dict(domain=[fx(3312), fx(3440)], range=[0, 1], anchor="y3", **hidden),
    xaxis7=dict(domain=[fx(3534), fx(3576)], range=[-0.5, 0.5], anchor="y4", **hidden),
    yaxis2=dict(domain=[0, 1], range=[y_bot, y_top], anchor="x3", **hidden),
    yaxis3=dict(domain=[0, 1], range=[(H - 275) / 27.02, -275 / 27.02], anchor="x6", **hidden),
    yaxis4=dict(domain=[fy(1000), fy(432)], autorange="reversed", anchor="x7", side="right", type="category", showgrid=False,
                zeroline=False, showline=False, ticks="outside", ticklen=7, tickcolor="white",
                tickfont=dict(family=FONT, size=33, color=INK)),
    coloraxis=dict(cmin=-4.95, cmax=5.15, colorscale=scale,
                   colorbar=dict(x=fx(3446), xanchor="left", y=fy(644), yanchor="bottom", len=425 / H, lenmode="fraction",
                                 thickness=27, thicknessmode="pixels", tickvals=colorbar_ticks,
                                 ticktext=[str(t) for t in colorbar_ticks], ticks="outside", ticklen=11, tickcolor="white",
                                 tickfont=dict(family=FONT, size=30, color=INK), outlinewidth=0, borderwidth=0,
                                 xpad=0, ypad=0)),
)

fig.write_html("out.html", post_script="document.body.style.margin='0';", config=dict(displayModeBar=False))
